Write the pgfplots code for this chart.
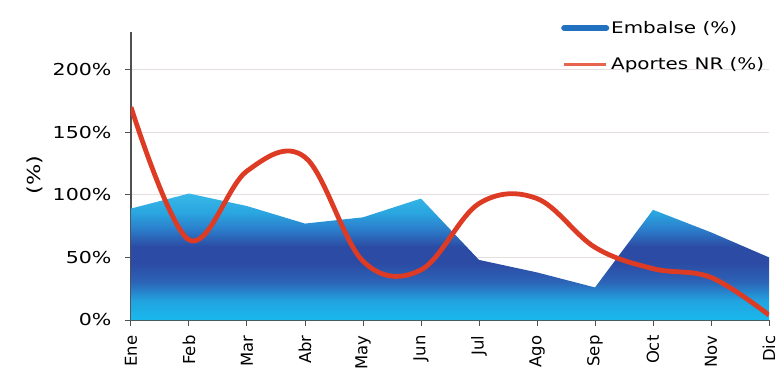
\documentclass[border=0pt]{standalone}
\usepackage{fontspec}
\setmainfont{DejaVu Sans}[FakeStretch=1.25]
\newfontfamily\rotfont{DejaVu Sans}
\usepackage{pgfplots}
\usepackage{pgfplotstable}
\pgfplotsset{compat=1.18}

\definecolor{gridc}{HTML}{E4DEDE}
\definecolor{axisc}{HTML}{505050}
\definecolor{aportes}{HTML}{DD3B24}
\definecolor{aportesl}{HTML}{E8644E}
\definecolor{embalse}{HTML}{2270C0}
\definecolor{c0}{HTML}{18B8EC}
\definecolor{c1}{HTML}{22A4E0}
\definecolor{c2}{HTML}{2C64B8}
\definecolor{c3}{HTML}{2C4BA4}
\definecolor{c4}{HTML}{2B7ECB}
\definecolor{c5}{HTML}{2AA6E0}
\definecolor{c6}{HTML}{38B8E8}

% vertical shading of the reservoir area: 25bp = 0 %, 75bp = 100 %
\pgfdeclareverticalshading{embalseshade}{100bp}{%
  color(0bp)=(c0); color(25bp)=(c0); color(32.5bp)=(c1); color(40bp)=(c2);
  color(47.5bp)=(c3); color(54bp)=(c3); color(61bp)=(c4); color(67.5bp)=(c5);
  color(75bp)=(c6); color(100bp)=(c6)}

\pgfplotstableread{
m  emb  apo
0  89   170
1  101  64
2  91   119
3  77   130
4  82   47
5  97   40
6  48   93
7  38   97
8  26   58
9  88   41
10 70   34
11 50   4
}\datatable

\begin{document}
\begin{tikzpicture}
\begin{axis}[
  scale only axis, width=638bp, height=288bp,
  xmin=0, xmax=11, ymin=0, ymax=230,
  axis lines*=left,
  axis line style={axisc, line width=1.2bp, -},
  xtick={0,...,11},
  xticklabels={Ene,Feb,Mar,Abr,May,Jun,Jul,Ago,Sep,Oct,Nov,Dic},
  xticklabel style={rotate=90, anchor=east, xshift=-6bp,
    font=\rotfont\fontsize{16.5}{18}\selectfont},
  ytick={0,50,100,150,200},
  yticklabel={\pgfmathprintnumber{\tick}\%},
  yticklabel style={xshift=-10bp, font=\fontsize{16.5}{18}\selectfont},
  /pgf/number format/assume math mode=true,
  ymajorgrids,
  grid style={gridc, line width=1.2bp},
  tick align=outside, major tick length=6bp,
  tick style={axisc, line width=1bp},
  ylabel={(\%)},
  ylabel style={at={(axis description cs:-0.150,0.503)}, anchor=center,
    font=\fontsize{18}{20}\selectfont},
  legend style={at={(axis description cs:0.674,1.045)}, anchor=north west,
    draw=none, fill=none, inner sep=0pt, row sep=19bp,
    font=\fontsize{16}{18}\selectfont},
  legend cell align=left,
]
\addplot[draw=none, shading=embalseshade,
  legend image code/.code={\draw[embalse, line width=6bp, line cap=round]
    (0bp,0bp) -- (42bp,0bp);}]
  table[x=m, y=emb] {\datatable} \closedcycle;
\addlegendentry{Embalse (\%)}
\addplot[aportes, line width=4.8bp, smooth, tension=0.6,
  legend image code/.code={\draw[aportesl, line width=3bp]
    (0bp,0bp) -- (42bp,0bp);}]
  table[x=m, y=apo] {\datatable};
\addlegendentry{Aportes NR (\%)}
\end{axis}
\pgfresetboundingbox
\useasboundingbox (-131bp,-62bp) rectangle (653bp,320bp);
\end{tikzpicture}
\end{document}
